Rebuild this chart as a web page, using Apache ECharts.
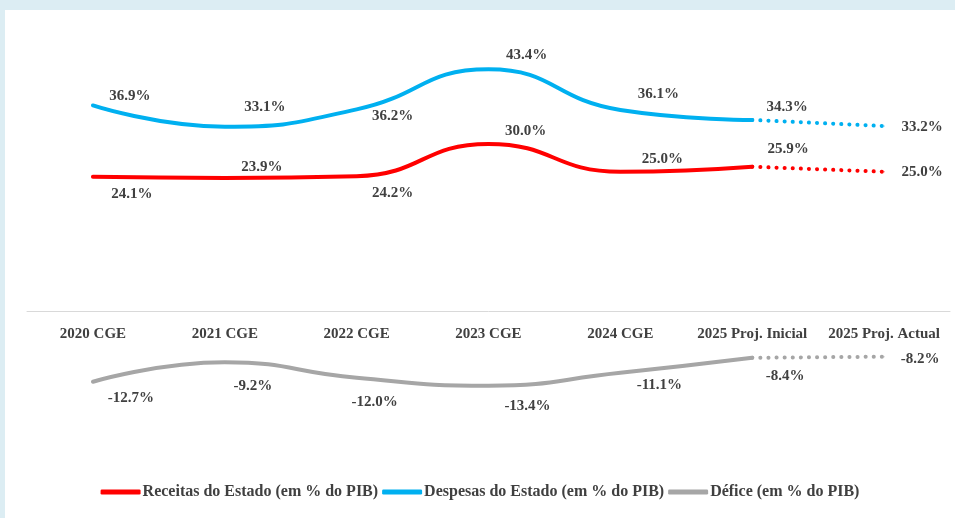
<!DOCTYPE html>
<html>
<head>
<meta charset="utf-8">
<script src="https://cdn.jsdelivr.net/npm/echarts@6/dist/echarts.min.js"></script>
<style>
  html, body { margin: 0; padding: 0; background: #dcedf3; width: 955px; height: 518px; overflow: hidden; }
  #chart { position: absolute; left: 5px; top: 10px; width: 950px; height: 508px; background: #fff; }
</style>
</head>
<body>
<div id="chart"></div>
<script>
// categorias e valores (% do PIB)
var categorias = ['2020 CGE', '2021 CGE', '2022 CGE', '2023 CGE', '2024 CGE', '2025 Proj. Inicial', '2025 Proj. Actual']
var receitas = [24.1, 23.9, 24.2, 30.0, 25.0, 25.9, 25.0]
var despesas = [36.9, 33.1, 36.2, 43.4, 36.1, 34.3, 33.2]
var defice = [-12.7, -9.2, -12.0, -13.4, -11.1, -8.4, -8.2]

var nomes = ['Receitas do Estado (em % do PIB)', 'Despesas do Estado (em % do PIB)', 'Défice (em % do PIB)']
var cores = ['#ff0000', '#00b0f0', '#a6a6a6']

// deslocamento dos rótulos [dx, dy] em px
var offReceitas = [[39, 17], [37, -11], [36, 17], [37, -13], [42, -13], [36, -18], [38, 0]]
var offDespesas = [[37, -9], [40, -20], [36, 7], [38, -14], [38, -16], [35, -13], [38, 1]]
var offDefice = [[38, 16], [28, 24], [18, 24], [39, 20], [39, 12], [33, 18], [36, 2]]

var corte = 5 // a partir daqui a linha é pontilhada
var fonte = 'Liberation Serif'

function pontos (valores, offs, tracejado) {
  return valores.map(function (v, i) {
    var dentro = tracejado ? (i >= corte) : (i <= corte)
    if (!dentro) return '-'
    var mostra = tracejado ? (i > corte) : true
    return {
      value: v,
      label: { show: mostra, offset: offs[i] }
    }
  })
}

function serie (idx, valores, offs, tracejado) {
  return {
    name: nomes[idx],
    type: 'line',
    smooth: tracejado ? false : 0.5,
    symbol: 'circle',
    symbolSize: 1,
    showSymbol: true,
    itemStyle: { color: cores[idx] },
    lineStyle: {
      color: cores[idx],
      width: 4,
      type: tracejado ? [0.1, 8] : 'solid',
      cap: 'round'
    },
    label: {
      show: true,
      position: 'inside',
      color: '#404040',
      fontFamily: fonte,
      fontWeight: 'bold',
      fontSize: 15,
      formatter: function (p) { return p.value.toFixed(1) + '%' }
    },
    emphasis: { disabled: true },
    data: pontos(valores, offs, tracejado)
  }
}

var option = {
  animation: false,
  color: cores,
  grid: { left: 22, right: 5, top: 22.5, bottom: 95.6 },
  legend: {
    data: nomes,
    bottom: 13,
    left: 'center',
    icon: 'roundRect',
    itemWidth: 40,
    itemHeight: 5,
    itemGap: 4,
    textStyle: { color: '#404040', fontFamily: fonte, fontWeight: 'bold', fontSize: 16, padding: [0, 0, 0, -3] }
  },
  xAxis: {
    type: 'category',
    boundaryGap: true,
    data: categorias,
    // eixo na linha do zero (o eixo y vai de -20 a 50)
    offset: -111.4,
    axisLine: { onZero: false, lineStyle: { color: '#d9d9d9', width: 1 } },
    axisTick: { show: false },
    axisLabel: {
      margin: 16,
      color: '#404040',
      fontFamily: fonte,
      fontWeight: 'bold',
      fontSize: 15,
      interval: 0
    },
    splitLine: { show: false }
  },
  yAxis: {
    type: 'value',
    min: -20,
    max: 50,
    show: false,
    splitLine: { show: false }
  },
  series: [
    serie(0, receitas, offReceitas, false),
    serie(1, despesas, offDespesas, false),
    serie(2, defice, offDefice, false),
    serie(0, receitas, offReceitas, true),
    serie(1, despesas, offDespesas, true),
    serie(2, defice, offDefice, true)
  ]
}

var myChart = echarts.init(document.getElementById('chart'))
myChart.setOption(option)
window.onresize = myChart.resize
</script>
</body>
</html>
